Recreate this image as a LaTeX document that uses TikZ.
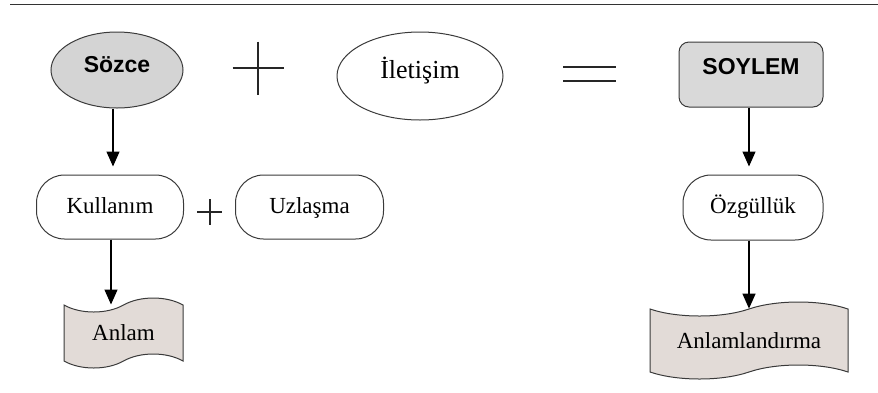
\documentclass[tikz,border=0pt]{standalone}
\usepackage{fontspec}
\setmainfont{Liberation Serif}
\setsansfont{Liberation Sans}
\definecolor{OvalGray}{HTML}{D4D4D4}
\definecolor{BoxGray}{HTML}{D9D9D9}
\definecolor{TapeFill}{HTML}{E2DBD7}
\definecolor{EdgeGray}{HTML}{3A3A3A}
\usetikzlibrary{arrows.meta,shapes.geometric,shapes.symbols}

\begin{document}
\begin{tikzpicture}[
						x=1pt, y=-1pt,
						oval/.style={ellipse, draw=EdgeGray, line width=1pt, inner sep=0pt,
							text height=10pt, text depth=6pt},
						term/.style={rectangle, rounded corners=28pt, draw=EdgeGray, line width=1pt,
							minimum height=64pt, inner sep=0pt, text height=15pt, text depth=3pt,
							font=\fontsize{23}{28}\selectfont},
						tapebox/.style={tape, draw=EdgeGray, line width=1pt, fill=TapeFill,
							tape bend height=14pt, inner sep=0pt, font=\fontsize{23}{28}\selectfont},
						sans/.style={font=\sffamily\bfseries\fontsize{23}{28}\selectfont},
						sign/.style={line width=2pt, draw=black!85},
						flow/.style={->, line width=1.3pt},
						>={Triangle[width=13pt,length=15pt]}
					]
						\useasboundingbox (0,0) rectangle (878,392);
						\coordinate (ruleL) at (10,4.5);
						\coordinate (ruleR) at (878,4.5);
						\draw[line width=1.5pt, draw=black!80] (ruleL) -- (ruleR);

						\node[oval, sans, fill=OvalGray, minimum width=132pt, minimum height=76pt] (sozce) at (117,70) {Sözce};
						\node[oval, minimum width=166pt, minimum height=88pt, font=\fontsize{26}{30}\selectfont] (iletisim) at (420,76) {İletişim};
						\node[term, sans, fill=BoxGray, rounded corners=10pt, minimum width=144pt, minimum height=65pt,
							text height=8pt, text depth=8pt] (soylem) at (751,74.5) {SOYLEM};

						\node[term, minimum width=147pt] (kullanim) at (110,207) {Kullanım};
						\node[term, minimum width=148pt] (uzlasma) at (309.5,207) {Uzlaşma};
						\node[term, minimum width=140pt, minimum height=65pt] (ozgulluk) at (753,207.5) {Özgüllük};

						\node[tapebox, minimum width=119pt, minimum height=70pt] (anlam) at (123.5,333) {Anlam};
						\node[tapebox, minimum width=198pt, minimum height=77pt] (anlamlandirma) at (749,340.5) {Anlamlandırma};

						% signs between the terms
						\coordinate (plusA) at (258,68);
						\coordinate (plusB) at (209.5,212);
						\coordinate (equal) at (589.5,74);
						\draw[sign] (plusA) ++(-25.5,0) -- ++(51,0) (plusA) ++(0,-26.5) -- ++(0,53);
						\draw[sign] (plusB) ++(-12.5,0) -- ++(25,0) (plusB) ++(0,-13) -- ++(0,26);
						\draw[sign] (equal) ++(-26.5,-7) -- ++(53,0) (equal) ++(-26.5,7) -- ++(53,0);

						\draw[flow, shorten >=8pt] ([xshift=-4pt]sozce.south) -- ([xshift=-4pt]sozce.south |- kullanim.north);
						\draw[flow, shorten >=8pt] ([xshift=-2pt]soylem.south) -- ([xshift=-2pt]soylem.south |- ozgulluk.north);
						\draw[flow] ([xshift=1pt]kullanim.south) -- ([xshift=1pt]kullanim.south |- anlam.north);
						\draw[flow] ([xshift=-4pt]ozgulluk.south) -- ([xshift=-4pt]ozgulluk.south |- anlamlandirma.north);
					\end{tikzpicture}
\end{document}
